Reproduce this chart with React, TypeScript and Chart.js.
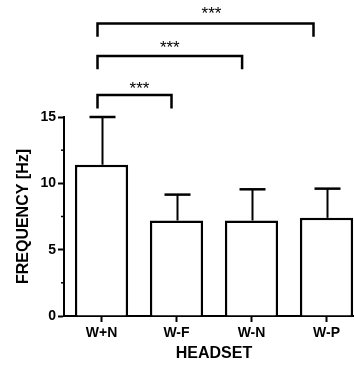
import React, { useEffect, useRef } from 'react';
import { Chart, registerables } from 'chart.js';
Chart.register(...registerables);

const categories = ['W+N', 'W-F', 'W-N', 'W-P'];
const means = [11.4, 7.2, 7.2, 7.4];
const errorTops = [15.0, 9.15, 9.55, 9.6];
const yTicks = [0, 5, 10, 15];
const minorTicks = [2.5, 7.5, 12.5];
const comparisonFrom = [0, 0, 0];
const comparisonTo = [1, 2, 3];
const comparisonLabels = ['***', '***', '***'];

const FONT = '"Liberation Sans", Arial, sans-serif';

const overlay = {
  id: 'overlay',
  afterDraw(chart: any) {
    const ctx = chart.ctx;
    const xs = chart.scales.x;
    const ys = chart.scales.y;
    ctx.save();
    ctx.strokeStyle = '#000';
    ctx.fillStyle = '#000';
    ctx.lineCap = 'butt';

    // error bars (upper)
    ctx.lineWidth = 2;
    means.forEach((m, i) => {
      const cx = Math.round(xs.getPixelForValue(i)) + 0.5;
      const y0 = ys.getPixelForValue(m);
      const y1 = ys.getPixelForValue(errorTops[i]);
      ctx.beginPath();
      ctx.moveTo(cx, y0);
      ctx.lineTo(cx, y1);
      ctx.stroke();
      ctx.lineWidth = 2.5;
      ctx.beginPath();
      ctx.moveTo(cx - 13, y1);
      ctx.lineTo(cx + 13, y1);
      ctx.stroke();
      ctx.lineWidth = 2;
    });

    // minor ticks on y axis
    ctx.lineWidth = 1.5;
    const ax = ys.right;
    minorTicks.forEach((v) => {
      const py = ys.getPixelForValue(v);
      ctx.beginPath();
      ctx.moveTo(ax - 3, py);
      ctx.lineTo(ax, py);
      ctx.stroke();
    });

    // significance brackets
    const levels = [16.65, 19.6, 22.05];
    const rightOffsets = [-5, -9.4, -13];
    const starOffsets = [5, 0, 6];
    const starLevels = [17.26, 20.33, 22.88];
    ctx.lineWidth = 2.5;
    ctx.lineJoin = 'miter';
    comparisonFrom.forEach((f, i) => {
      const x0 = xs.getPixelForValue(f) - 4;
      const x1 = xs.getPixelForValue(comparisonTo[i]) + rightOffsets[i];
      const yTop = ys.getPixelForValue(levels[i]);
      const yLeg = ys.getPixelForValue(levels[i] - 1.0);
      ctx.beginPath();
      ctx.moveTo(x0, yLeg);
      ctx.lineTo(x0, yTop);
      ctx.lineTo(x1, yTop);
      ctx.lineTo(x1, yLeg);
      ctx.stroke();
      ctx.font = `17px ${FONT}`;
      ctx.textAlign = 'center';
      ctx.textBaseline = 'alphabetic';
      const sy = ys.getPixelForValue(starLevels[i]);
      ctx.fillText(comparisonLabels[i], (x0 + x1) / 2 + starOffsets[i], sy + 6.5);
    });
    ctx.restore();
  },
};

export default function App() {
  const ref = useRef<HTMLCanvasElement>(null);
  useEffect(() => {
    document.body.style.margin = '0';
    const chart = new Chart(ref.current as HTMLCanvasElement, {
      type: 'bar',
      data: {
        labels: categories,
        datasets: [
          {
            data: means,
            backgroundColor: '#fff',
            borderColor: '#000',
            borderWidth: 2.5,
            barPercentage: 0.71,
            categoryPercentage: 1,
          },
        ],
      },
      options: {
        animation: false,
        responsive: false,
        devicePixelRatio: 1,
        layout: { padding: { top: 117, right: 2, left: 0, bottom: 0 } },
        plugins: { legend: { display: false }, tooltip: { enabled: false } },
        scales: {
          x: {
            offset: true,
            border: { display: true, color: '#000', width: 2 },
            grid: { drawOnChartArea: false, drawTicks: true, tickLength: 6, tickColor: '#000', tickWidth: 2, offset: false },
            ticks: { color: '#000', font: { family: FONT, size: 14, weight: 'bold' }, padding: 3 },
            title: { display: true, text: 'HEADSET', color: '#000', font: { family: FONT, size: 16, weight: 'bold' }, padding: { top: 4, bottom: 4.4 } },
            afterFit: (s: any) => { s.height = 52; },
          },
          y: {
            min: 0,
            max: 15,
            afterBuildTicks: (s: any) => { s.ticks = yTicks.map((v) => ({ value: v })); },
            border: { display: true, color: '#000', width: 2 },
            grid: { drawOnChartArea: false, drawTicks: true, tickLength: 6, tickColor: '#000', tickWidth: 2 },
            ticks: { color: '#000', font: { family: FONT, size: 14, weight: 'bold' }, padding: 2 },
            title: { display: true, text: 'FREQUENCY [Hz]', color: '#000', font: { family: FONT, size: 16, weight: 'bold' }, padding: { top: 14.4, bottom: 0 } },
            afterFit: (s: any) => { s.width = 64; },
          },
        },
      } as any,
      plugins: [overlay],
    });
    return () => chart.destroy();
  }, []);
  return (
    <div style={{ position: 'fixed', left: 0, top: 0, width: 354, height: 368, overflow: 'hidden', background: '#fff' }}>
      <canvas ref={ref} width={366} height={368} style={{ display: 'block' }} />
    </div>
  );
}
